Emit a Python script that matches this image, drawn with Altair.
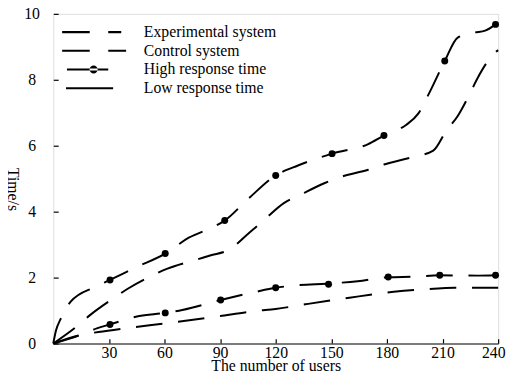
import altair as alt
import pandas as pd

# ---- data ----
x_ticks = [30, 60, 90, 120, 150, 180, 210, 240]
y_ticks = [0, 2, 4, 6, 8, 10]

legend_labels = ["Experimental system", "Control system", "High response time", "Low response time"]

# upper curve with markers
hi_dot_curve_x = [0, 1.5, 4, 9.4, 22.7, 30.6, 45, 60.4, 73.1, 86.4, 92.5, 105, 120, 132, 150.4,
                  169.9, 178.4, 190.3, 197, 203.2, 211.2, 218.2, 227, 233, 238.6]
hi_dot_curve_y = [0, 0.4, 0.75, 1.27, 1.72, 1.93, 2.32, 2.73, 3.21, 3.54, 3.73, 4.38, 5.1, 5.4, 5.76,
                  6.05, 6.31, 6.63, 6.98, 7.64, 8.57, 9.28, 9.43, 9.49, 9.68]
# upper curve without markers
hi_plain_x = [0, 12.9, 20, 32.4, 40.4, 53.6, 61.6, 75.8, 84.6, 95, 105.9, 113, 124.4, 132.9, 146.5,
              154.9, 169.9, 178.4, 193.4, 205, 212, 218.2, 224.4, 228.8, 237.7, 240]
hi_plain_y = [0, 0.53, 0.87, 1.37, 1.67, 2.07, 2.27, 2.52, 2.67, 2.85, 3.37, 3.71, 4.26, 4.5, 4.87,
              5.05, 5.27, 5.43, 5.65, 5.85, 6.45, 6.9, 7.54, 8.04, 8.79, 8.9]
# lower curve with markers
lo_dot_curve_x = [0, 15.6, 23.5, 30.6, 45.7, 60.4, 69.6, 90.3, 109.4, 120, 131.5, 148.5, 164.2,
                  180.7, 195, 208.5, 229, 238.6]
lo_dot_curve_y = [0, 0.28, 0.46, 0.58, 0.83, 0.93, 1.02, 1.32, 1.57, 1.69, 1.77, 1.82, 1.89,
                  2.01, 2.03, 2.07, 2.06, 2.07]
# lower curve without markers
lo_plain_x = [0, 15.6, 24.4, 38.6, 63.4, 87.3, 109.4, 120, 136, 159.8, 183.7, 207.6, 216.5, 232.4, 240]
lo_plain_y = [0, 0.27, 0.35, 0.46, 0.63, 0.81, 0.99, 1.05, 1.19, 1.39, 1.57, 1.67, 1.69, 1.69, 1.69]

# markers
hi_marker_x = [30.6, 60.4, 92.5, 120, 150.4, 178.4, 211.2, 238.6]
hi_marker_y = [1.93, 2.73, 3.73, 5.1, 5.76, 6.31, 8.57, 9.68]
lo_marker_x = [30.6, 60.4, 90.3, 120, 148.5, 180.7, 208.5, 238.6]
lo_marker_y = [0.58, 0.93, 1.32, 1.69, 1.80, 2.02, 2.07, 2.07]

curve_series = ["High response time", "Control system", "Experimental system", "Low response time"]

# legend glyphs (unit-square SVG paths, drawn as thin filled bars)
legend_paths = [
    "M-0.97,-0.032H-0.12V0.032H-0.97Z M0.45,-0.032H0.85V0.032H0.45Z",
    "M-0.97,-0.032H-0.12V0.032H-0.97Z M0.45,-0.032H1V0.032H0.45Z",
    "M-0.82,-0.032H0.45V0.032H-0.82Z M-0.125,0A0.125,0.125 0 1,0 0.125,0A0.125,0.125 0 1,0 -0.125,0Z",
    "M-0.85,-0.032H0.6V0.032H-0.85Z",
]

rows = []
for name, xs, ys in zip(curve_series,
                        [hi_dot_curve_x, hi_plain_x, lo_dot_curve_x, lo_plain_x],
                        [hi_dot_curve_y, hi_plain_y, lo_dot_curve_y, lo_plain_y]):
    for xv, yv in zip(xs, ys):
        rows.append({"series": name, "x": xv, "y": yv})
curves = pd.DataFrame(rows)

markers = pd.DataFrame({
    "x": hi_marker_x + lo_marker_x,
    "y": hi_marker_y + lo_marker_y,
})

FONT = "Liberation Serif"

x_enc = alt.X("x:Q",
              scale=alt.Scale(domain=[0, 240], nice=False),
              axis=alt.Axis(values=x_ticks, title="The number of users",
                            tickSize=alt.ExprRef(expr="-5"), tickColor="black", tickWidth=1.2,
                            labelPadding=19, labelBaseline="alphabetic",
                            labelFlush=1, labelFlushOffset=7,
                            labelFontSize=16, labelColor="black", labelFont=FONT,
                            titleFontSize=16, titleFont=FONT, titleColor="black",
                            titleFontWeight="normal", titleY=27, titleBaseline="alphabetic",
                            domainColor="#555555", domainWidth=1.5, grid=False))
y_enc = alt.Y("y:Q",
              scale=alt.Scale(domain=[0, 10], nice=False),
              axis=alt.Axis(values=y_ticks, title="Time/s",
                            tickSize=alt.ExprRef(expr="-5"), tickColor="black", tickWidth=1.2,
                            labelPadding=27, labelAlign="center",
                            labelFontSize=16, labelColor="black", labelFont=FONT,
                            titleFontSize=16, titleFont=FONT, titleColor="black",
                            titleFontWeight="normal", titleAngle=90, titleX=-41, titleY=178,
                            titleAlign="center", titleBaseline="middle",
                            domain=False, grid=False))

lines = alt.Chart(curves).mark_line(
    color="black", strokeWidth=2, strokeDash=[27, 16], interpolate="monotone"
).encode(x=x_enc, y=y_enc, detail="series:N")

dots = alt.Chart(markers).mark_circle(color="black", size=50, opacity=1).encode(x=x_enc, y=y_enc)

legend_layer = alt.Chart(curves).mark_point(
    filled=True, color="black", opacity=0
).encode(
    x=x_enc, y=y_enc,
    shape=alt.Shape("series:N",
                    scale=alt.Scale(domain=legend_labels, range=legend_paths),
                    legend=alt.Legend(title=None, orient="none", legendX=8, legendY=9.4,
                                      padding=0, rowPadding=0, clipHeight=18.3,
                                      symbolSize=4356, symbolStrokeWidth=0,
                                      symbolFillColor="black",
                                      symbolOpacity=1, labelFontSize=16, labelFont=FONT,
                                      labelColor="black", labelOffset=18, labelLimit=400)),
)

chart = alt.layer(lines, dots, legend_layer).properties(
    width=452, height=335,
    autosize=alt.AutoSizeParams(type="none"),
    padding={"left": 46, "top": 3, "right": 9, "bottom": 28},
).configure_view(stroke="black", strokeWidth=1.2).configure(font=FONT)

chart.save("out.html", embed_options={"renderer": "svg", "actions": False})
